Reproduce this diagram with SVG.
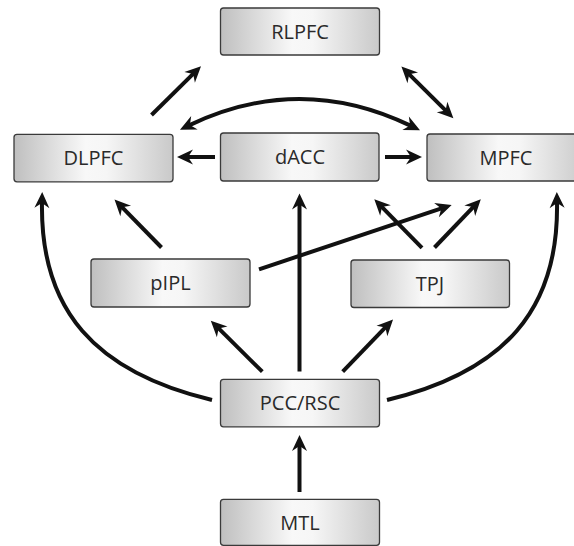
<svg xmlns="http://www.w3.org/2000/svg" width="574" height="546" viewBox="0 0 574 546">
  <defs>
    <linearGradient id="boxGrad" x1="0" y1="0" x2="1" y2="0">
      <stop offset="0" stop-color="#bfbfbf"/>
      <stop offset="0.45" stop-color="#f8f8f8"/>
      <stop offset="0.58" stop-color="#f6f6f6"/>
      <stop offset="1" stop-color="#c9c9c9"/>
    </linearGradient>
    <marker id="ah" markerUnits="userSpaceOnUse" markerWidth="16" markerHeight="15" refX="6" refY="7.5" orient="auto-start-reverse" overflow="visible">
      <path d="M0,0 L16,7.5 L0,15 L5,7.5 Z" fill="#111"/>
    </marker>
  </defs>
  <style>
    .box { fill: url(#boxGrad); stroke: #3a3a3a; stroke-width: 1.3; }
    .lbl { font-family: "Open Sans", "Noto Sans", "DejaVu Sans", sans-serif; font-size: 20px; fill: #2a2a2a; text-anchor: middle; }
    .c { fill: none; stroke: #111; stroke-width: 4; marker-end: url(#ah); }
    .dbl { marker-start: url(#ah); }
  </style>

  <g id="connectors">
    <path class="c" d="M151.5,115 L193.9,73.2"/>
    <path class="c dbl" d="M408.5,73.6 L446.3,111.2"/>
    <path class="c dbl" d="M189,125.4 Q300,72.3 411,125.9"/>
    <path class="c" d="M215,157 L187,157"/>
    <path class="c" d="M385,157 L412,157"/>
    <path class="c" d="M212,400 C95,372 40,310 42,202"/>
    <path class="c" d="M387,400 C504,372 559,310 557,202"/>
    <path class="c" d="M161.5,247.5 L121.5,206.6"/>
    <path class="c" d="M299.5,371.5 L299.5,203.5"/>
    <path class="c" d="M259,269.3 L442.2,208.2"/>
    <path class="c" d="M422,247.8 L381.3,206.3"/>
    <path class="c" d="M434.5,247.5 L473.9,206.4"/>
    <path class="c" d="M262.3,371.7 L217.9,327.7"/>
    <path class="c" d="M342.7,371.7 L386.1,326.7"/>
    <path class="c" d="M299.5,492 L299.5,445"/>
  </g>

  <g id="RLPFC">
    <rect class="box" x="220.5" y="8" width="159" height="47" rx="3"/>
    <text class="lbl" x="300" y="38.5">RLPFC</text>
  </g>
  <g id="DLPFC">
    <rect class="box" x="14" y="134.3" width="159" height="47.5" rx="3"/>
    <text class="lbl" x="93.5" y="165">DLPFC</text>
  </g>
  <g id="dACC">
    <rect class="box" x="220.5" y="133" width="158.5" height="48" rx="3"/>
    <text class="lbl" x="300" y="164">dACC</text>
  </g>
  <g id="MPFC">
    <rect class="box" x="427" y="134" width="159" height="47" rx="3"/>
    <text class="lbl" x="506" y="164.5">MPFC</text>
  </g>
  <g id="pIPL">
    <rect class="box" x="91" y="259" width="159" height="48" rx="3"/>
    <text class="lbl" x="170.5" y="290">pIPL</text>
  </g>
  <g id="TPJ">
    <rect class="box" x="351" y="260" width="158.5" height="47.5" rx="3"/>
    <text class="lbl" x="430" y="290.5">TPJ</text>
  </g>
  <g id="PCC_RSC">
    <rect class="box" x="220.5" y="379.3" width="159" height="47.5" rx="3"/>
    <text class="lbl" x="300" y="410">PCC/RSC</text>
  </g>
  <g id="MTL">
    <rect class="box" x="220.5" y="499.3" width="159" height="46" rx="3"/>
    <text class="lbl" x="300" y="529.5">MTL</text>
  </g>
</svg>
